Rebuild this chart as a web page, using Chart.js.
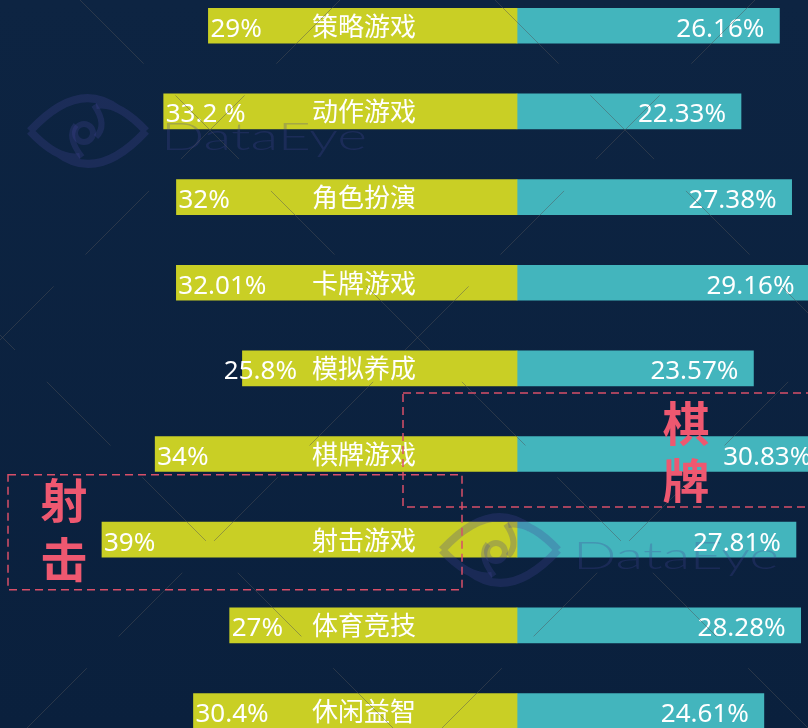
<!DOCTYPE html>
<html>
<head>
<meta charset="utf-8">
<script src="https://cdn.jsdelivr.net/npm/chart.js@4/dist/chart.umd.min.js"></script>
<style>
  html, body { margin: 0; padding: 0; background: #0c2240; overflow: hidden; }
  #wrap { width: 808px; height: 728px; }
</style>
</head>
<body>
<div id="wrap"><canvas id="genreChart" width="808" height="728"></canvas></div>
<script>
// data
const categories = ["策略游戏", "动作游戏", "角色扮演", "卡牌游戏", "模拟养成", "棋牌游戏", "射击游戏", "体育竞技", "休闲益智"];
const leftValues = [29, 33.2, 32, 32.01, 25.8, 34, 39, 27, 30.4];
const leftLabels = ["29%", "33.2 %", "32%", "32.01%", "25.8%", "34%", "39%", "27%", "30.4%"];
const rightValues = [26.16, 22.33, 27.38, 29.16, 23.57, 30.83, 27.81, 28.28, 24.61];
const rightLabels = ["26.16%", "22.33%", "27.38%", "29.16%", "23.57%", "30.83%", "27.81%", "28.28%", "24.61%"];
const highlights = [
  { index: 5, text: ["棋", "牌"] },
  { index: 6, text: ["射", "击"] },
];

const numFont = '26px "Noto Sans", "Noto Sans CJK SC", sans-serif';
const cjkFont = '26px "Noto Sans CJK SC", "Noto Sans", sans-serif';

function drawWatermark(ctx, x, y) {
  ctx.save();
  ctx.strokeStyle = "rgba(70, 70, 150, 0.28)";
  ctx.fillStyle = "rgba(70, 70, 150, 0.28)";
  // eye outline
  const cx = x + 61, cy = y + 28;
  ctx.lineWidth = 8;
  ctx.beginPath();
  ctx.moveTo(cx - 58, cy);
  ctx.quadraticCurveTo(cx - 10, cy - 52, cx + 30, cy - 22);
  ctx.moveTo(cx + 58, cy);
  ctx.quadraticCurveTo(cx + 10, cy + 52, cx - 30, cy + 22);
  ctx.moveTo(cx - 58, cy);
  ctx.quadraticCurveTo(cx - 30, cy + 30, cx - 8, cy + 26);
  ctx.moveTo(cx + 58, cy);
  ctx.quadraticCurveTo(cx + 30, cy - 30, cx + 8, cy - 26);
  ctx.stroke();
  // pupil
  ctx.lineWidth = 6;
  ctx.beginPath();
  ctx.arc(cx - 4, cy + 2, 9, 0, Math.PI * 2);
  ctx.stroke();
  ctx.beginPath();
  ctx.moveTo(cx - 6, cy + 26);
  ctx.quadraticCurveTo(cx - 22, cy + 6, cx - 12, cy - 6);
  ctx.moveTo(cx + 6, cy - 26);
  ctx.quadraticCurveTo(cx + 20, cy - 6, cx + 8, cy + 6);
  ctx.stroke();
  // text
  ctx.font = '300 38px Lato, "Open Sans", sans-serif';
  ctx.textBaseline = "alphabetic";
  const w = ctx.measureText("DataEye").width;
  ctx.translate(x + 134, y + 47);
  ctx.scale(206 / w, 1);
  ctx.fillText("DataEye", 0, 0);
  ctx.restore();
}

const decorPlugin = {
  id: "decor",
  beforeDraw(chart) {
    const ctx = chart.ctx;
    const g = ctx.createLinearGradient(0, 0, 0, chart.height);
    g.addColorStop(0, "#0d2442");
    g.addColorStop(1, "#0a203d");
    ctx.save();
    ctx.fillStyle = g;
    ctx.fillRect(0, 0, chart.width, chart.height);
    ctx.restore();
  },
  afterDatasetsDraw(chart) {
    const ctx = chart.ctx;
    const ys = chart.scales.y;
    const xl = chart.scales.xL;
    const xr = chart.scales.xR;

    drawWatermark(ctx, 27, 103);
    drawWatermark(ctx, 439, 522);

    ctx.save();
    ctx.fillStyle = "#ffffff";
    categories.forEach((cat, i) => {
      const yc = ys.getPixelForValue(i);
      // left value, kept clear of the category name
      ctx.font = numFont;
      ctx.textAlign = "left";
      const lw = ctx.measureText(leftLabels[i]).width;
      const lx = Math.min(xl.getPixelForValue(leftValues[i]) + 2, 297 - lw);
      ctx.fillText(leftLabels[i], lx, yc + 11);
      // category
      ctx.font = cjkFont;
      ctx.textAlign = "center";
      ctx.fillText(cat, 364, yc + 10);
      // right value
      ctx.font = numFont;
      ctx.textAlign = "right";
      ctx.fillText(rightLabels[i], xr.getPixelForValue(rightValues[i]) - 15, yc + 11);
    });
    ctx.restore();

    // faint diagonal lattice
    ctx.save();
    ctx.strokeStyle = "rgba(80, 82, 86, 0.45)";
    ctx.lineWidth = 1;
    ctx.setLineDash([90, 45]);
    [80, -335, 495].forEach(c => {
      ctx.beginPath();
      ctx.moveTo(c, 0);
      ctx.lineTo(c + 900, 900);
      ctx.stroke();
    });
    [340, 755, 1170].forEach(c => {
      ctx.beginPath();
      ctx.moveTo(c, 0);
      ctx.lineTo(c - 1200, 1200);
      ctx.stroke();
    });
    ctx.restore();

    // highlighted groups
    ctx.save();
    ctx.strokeStyle = "#d84f68";
    ctx.lineWidth = 1.5;
    ctx.setLineDash([8, 5]);
    const boxes = [
      { x0: 403, x1: 820, top: -61, bottom: 53, tx: 686 },
      { x0: 8, x1: 462, top: -65, bottom: 50, tx: 64 },
    ];
    highlights.forEach((h, k) => {
      const b = boxes[k];
      const yc = ys.getPixelForValue(h.index);
      ctx.strokeRect(b.x0, yc + b.top, b.x1 - b.x0, b.bottom - b.top);
    });
    ctx.setLineDash([]);
    ctx.fillStyle = "#ee5870";
    ctx.font = 'bold 47px "Noto Sans CJK SC", sans-serif';
    ctx.textAlign = "center";
    ctx.textBaseline = "middle";
    highlights.forEach((h, k) => {
      const b = boxes[k];
      const yc = ys.getPixelForValue(h.index);
      const top = yc + b.top;
      ctx.fillText(h.text[0], b.tx, top + (k === 0 ? 30 : 25));
      ctx.fillText(h.text[1], b.tx, top + (k === 0 ? 87 : 84));
    });
    ctx.restore();
  },
};

const ctx = document.getElementById("genreChart").getContext("2d");
const genreChart = new Chart(ctx, {
  type: "bar",
  data: {
    datasets: [
      {
        label: "left",
        data: leftValues.map((v, i) => ({ x: v, y: i })),
        xAxisID: "xL",
        backgroundColor: "#c9cf25",
        barThickness: 35,
        grouped: false,
      },
      {
        label: "right",
        data: rightValues.map((v, i) => ({ x: v, y: i })),
        xAxisID: "xR",
        backgroundColor: "#43b5bd",
        barThickness: 35,
        grouped: false,
      },
    ],
  },
  options: {
    indexAxis: "y",
    responsive: false,
    animation: false,
    layout: { padding: 0 },
    scales: {
      y: { type: "linear", offset: false, min: -0.301, max: 8.199, reverse: true, display: false },
      xL: { type: "linear", axis: "x", position: "bottom", reverse: true, min: -27.34, max: 48.58, display: false },
      xR: { type: "linear", axis: "x", position: "bottom", min: -51.55, max: 29.01, display: false },
    },
    plugins: {
      legend: { display: false },
      tooltip: { enabled: false },
    },
  },
  plugins: [decorPlugin],
});
</script>
</body>
</html>
